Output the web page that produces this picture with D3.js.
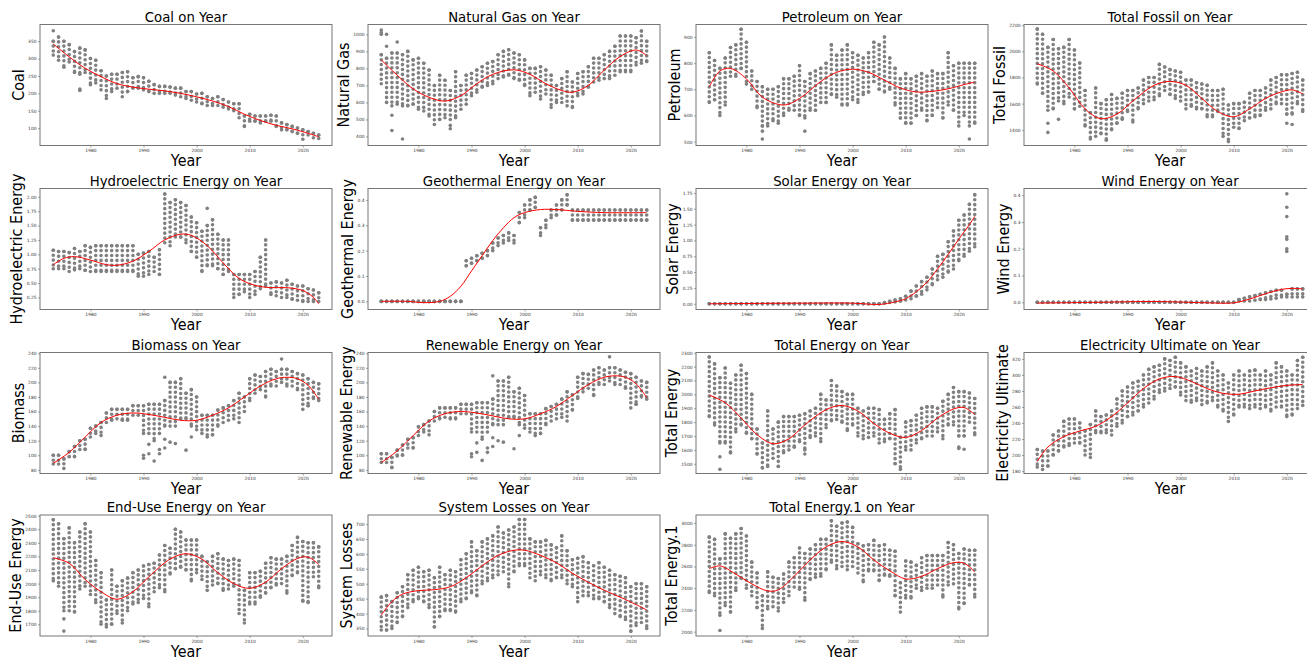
<!DOCTYPE html>
<html>
<head>
<meta charset="utf-8">
<script src="https://cdn.jsdelivr.net/npm/d3@7"></script>
<style>
  body { margin: 0; background: #fff; overflow: hidden; }
  text { font-family: "DejaVu Sans", sans-serif; }
</style>
</head>
<body>
<svg id="chart" width="1307" height="659"></svg>
<script>
const years = d3.range(1973, 2024);
const xTicks = [1980, 1990, 2000, 2010, 2020];

const coalLo = [310,295,275,290,260,255,260,225,230,210, 185,205,215,190,205,215,215,210,205,200, 200,200,200,195,190,185,180,175,170,165, 165,165,160,155,150,130,105,120,120,115, 120,120,105,95,95,90,85,68,80,72, 70];
const coalHi = [350,362,350,340,320,330,325,300,295,265, 250,255,255,260,262,245,248,245,235,225, 220,220,218,215,215,205,205,198,200,190, 185,190,182,175,170,170,135,140,135,135, 135,137,135,115,110,105,100,95,90,85, 80];
const coalExtra = [[1973,380],[1978,208],[1978,212]];
const coalTrend = [[1973,342],[1976,305],[1979,272],[1982,248],[1985,228],[1988,218],[1991,212],[1994,207],[1997,200],[2000,190],[2003,178],[2006,162],[2009,140],[2012,122],[2015,108],[2018,98],[2021,85],[2023,75]];
const coalTicks = [100,150,200,250,300,350];

const gasLo = [710,600,580,590,580,580,590,560,550,520, 470,500,510,500,510,560,590,640,660,690, 700,710,740,750,760,740,730,700,640,660, 620,650,570,600,600,580,570,640,650,690, 720,730,740,740,760,780,780,780,820,830, 840];
const gasHi = [880,860,890,890,880,900,850,860,830,790, 700,760,730,670,780,700,760,770,790,810, 830,840,880,900,910,890,880,850,800,800, 810,790,760,700,740,780,720,770,780,810, 860,860,880,900,930,990,990,990,980,1020, 960];
const gasExtra = [[1973,1000],[1973,1010],[1973,1025],[1974,930],[1974,1000],[1975,435],[1975,525],[1976,955],[1977,385],[1986,445],[1986,465]];
const gasTrend = [[1973,850],[1976,760],[1979,680],[1982,630],[1985,608],[1988,640],[1991,710],[1994,765],[1998,792],[2001,765],[2004,710],[2007,670],[2009,660],[2012,700],[2015,790],[2018,870],[2021,908],[2023,875]];
const gasTicks = [400,500,600,700,800,900,1000];

const petroLo = [650,660,600,640,750,750,780,720,700,630, 560,560,580,570,600,620,620,600,590,620, 620,650,650,680,670,640,640,660,650,680, 690,730,700,690,700,640,590,570,570,600, 620,580,600,630,590,640,620,560,600,560, 570];
const petroHi = [840,810,780,820,860,870,930,880,770,730, 710,700,700,710,740,740,750,790,730,760, 770,780,800,870,830,850,870,840,830,820, 840,880,870,900,820,780,740,760,740,750, 760,750,770,760,760,840,790,800,800,800, 800];
const petroExtra = [[1983,510],[1983,540],[1991,540],[2022,510]];
const petroTrend = [[1973,710],[1975,770],[1977,780],[1980,740],[1983,670],[1987,640],[1990,665],[1994,730],[1997,765],[2000,777],[2003,765],[2006,735],[2009,705],[2012,690],[2015,692],[2018,702],[2021,718],[2023,728]];
const petroTicks = [500,600,700,800,900];

const fossilLo = [1750,1680,1550,1560,1620,1600,1650,1560,1580,1430, 1330,1350,1370,1320,1400,1450,1480,1540,1460,1560, 1600,1620,1630,1660,1700,1670,1640,1620,1560,1580, 1560,1560,1500,1500,1540,1350,1310,1420,1410,1470, 1490,1500,1510,1550,1560,1600,1600,1520,1520,1600, 1540];
const fossilHi = [2170,2130,2030,2090,2020,2030,2090,2010,1910,1700, 1530,1720,1600,1630,1670,1640,1680,1700,1700,1720, 1780,1800,1800,1900,1880,1860,1850,1840,1780,1780, 1760,1750,1740,1700,1700,1710,1590,1600,1600,1610, 1680,1700,1700,1720,1780,1800,1820,1820,1830,1840, 1780];
const fossilExtra = [[1975,1380],[1975,1450],[1977,1480],[2020,1450],[2021,1440]];
const fossilTrend = [[1973,1905],[1976,1850],[1979,1720],[1982,1560],[1985,1485],[1988,1520],[1991,1620],[1995,1740],[1998,1770],[2001,1740],[2004,1640],[2007,1540],[2010,1500],[2013,1560],[2016,1640],[2019,1690],[2021,1705],[2023,1675]];
const fossilTicks = [1400,1600,1800,2000,2200];

const hydroLo = [0.75,0.75,0.75,0.70,0.73,0.75,0.72,0.70,0.70,0.70, 0.70,0.70,0.70,0.70,0.70,0.70,0.62,0.62,0.65,0.70, 0.65,1.20,1.15,1.30,1.30,1.20,1.05,0.95,0.70,0.80, 0.80,0.75,0.65,0.70,0.25,0.30,0.35,0.25,0.30,0.40, 0.45,0.30,0.28,0.25,0.25,0.22,0.20,0.18,0.18,0.18, 0.18];
const hydroHi = [1.07,1.05,1.05,1.03,1.10,1.05,1.15,1.12,1.15,1.15, 1.15,1.15,1.15,1.15,1.15,1.15,1.00,1.02,1.05,0.95, 1.08,2.05,1.90,1.95,1.90,1.85,1.65,1.55,1.40,1.50, 1.60,1.35,1.25,1.25,0.65,0.65,0.65,0.65,0.70,0.95, 1.25,0.50,0.52,0.50,0.55,0.48,0.45,0.45,0.40,0.38, 0.33];
const hydroExtra = [[2002,1.80]];
const hydroTrend = [[1973,0.82],[1975,0.93],[1977,0.96],[1980,0.90],[1983,0.82],[1985,0.81],[1988,0.88],[1991,1.05],[1994,1.25],[1997,1.35],[1999,1.33],[2002,1.15],[2005,0.85],[2008,0.58],[2011,0.46],[2014,0.42],[2017,0.42],[2020,0.37],[2022,0.25],[2023,0.14]];
const hydroTicks = [0.25,0.50,0.75,1.00,1.25,1.50,1.75,2.00];

const geoLo = [0,0,0,0,0,0,0,0,0,0, 0,0,0,0,0,0,0.14,0.15,0.16,0.17, 0.18,0.20,0.22,0.23,0.24,0.23,0.31,0.33,0.36,0.37, 0.26,0.29,0.33,0.34,0.36,0.38,0.32,0.32,0.32,0.32, 0.32,0.32,0.32,0.32,0.32,0.32,0.32,0.32,0.32,0.32, 0.32];
const geoHi = [0,0,0,0,0,0,0,0,0,0, 0,0,0,0,0,0,0.16,0.17,0.18,0.19, 0.20,0.23,0.25,0.26,0.27,0.26,0.35,0.38,0.40,0.41, 0.29,0.32,0.36,0.38,0.40,0.42,0.36,0.36,0.36,0.36, 0.36,0.36,0.36,0.36,0.36,0.36,0.36,0.36,0.36,0.36, 0.36];
const geoExtra = [];
const geoTrend = [[1973,0.0],[1978,0.0],[1981,-0.005],[1984,0.0],[1986,0.02],[1988,0.06],[1990,0.12],[1992,0.18],[1994,0.24],[1996,0.29],[1998,0.33],[2000,0.35],[2003,0.362],[2006,0.362],[2010,0.355],[2015,0.35],[2023,0.35]];
const geoTicks = [0.0,0.1,0.2,0.3,0.4];

const solarLo = [0,0,0,0,0,0,0,0,0,0, 0,0,0,0,0,0,0,0,0,0, 0,0,0,0,0,0,0,0,0,0, 0,0,0,0.01,0.02,0.03,0.04,0.06,0.08,0.12, 0.15,0.22,0.30,0.38,0.42,0.50,0.55,0.68,0.75,0.83, 0.90];
const solarHi = [0,0,0,0,0,0,0,0,0,0, 0,0,0,0,0,0,0,0,0,0, 0,0,0,0,0,0,0,0,0,0, 0,0,0,0.02,0.04,0.06,0.08,0.12,0.20,0.28, 0.35,0.42,0.55,0.75,0.78,0.98,1.15,1.32,1.40,1.57, 1.72];
const solarExtra = [];
const solarTrend = [[1973,0.0],[1990,0.01],[2000,0.01],[2005,-0.01],[2008,0.03],[2010,0.08],[2012,0.19],[2014,0.34],[2016,0.55],[2018,0.78],[2020,1.02],[2022,1.25],[2023,1.38]];
const solarTicks = [0.00,0.25,0.50,0.75,1.00,1.25,1.50,1.75];

const windLo = [0,0,0,0,0,0,0,0,0,0, 0,0,0,0,0,0,0,0,0,0, 0,0,0,0,0,0,0,0,0,0, 0,0,0,0,0,0,0,0,0.005,0.005, 0.005,0.008,0.01,0.01,0.012,0.015,0.02,0.02,0.02,0.02, 0.02];
const windHi = [0,0,0,0,0,0,0,0,0,0, 0,0,0,0,0,0,0,0,0,0, 0,0,0,0,0,0,0,0,0,0, 0,0,0,0,0,0,0,0,0.01,0.015, 0.02,0.025,0.03,0.035,0.04,0.045,0.045,0.03,0.05,0.05, 0.05];
const windExtra = [[2020,0.19],[2020,0.20],[2020,0.235],[2020,0.245],[2020,0.32],[2020,0.355],[2020,0.405]];
const windTrend = [[1973,-0.003],[1985,0.0],[1995,0.003],[2005,-0.002],[2010,-0.002],[2013,0.012],[2016,0.032],[2019,0.048],[2021,0.052],[2023,0.05]];
const windTicks = [0.0,0.1,0.2,0.3,0.4];

const bioLo = [88,88,82,98,98,108,108,125,130,127, 145,148,150,148,148,155,155,130,130,120, 130,140,140,140,150,150,140,135,130,125, 128,140,145,148,150,145,160,175,185,190, 180,195,195,200,195,195,190,170,168,178, 175];
const bioHi = [100,100,95,105,112,120,122,137,140,145, 158,163,163,163,163,168,168,168,170,170, 170,175,200,200,205,185,190,180,155,155, 155,162,165,168,175,185,180,205,210,208, 215,218,215,218,218,215,212,210,205,200, 198];
const bioExtra = [[1990,96],[1990,100],[1991,102],[1991,115],[1992,92],[1993,102],[1993,108],[1994,207],[1994,110],[1994,122],[1995,118],[1996,116],[1998,107],[1999,125],[2016,232],[2020,163],[2021,168]];
const bioTrend = [[1973,89],[1976,104],[1979,125],[1982,145],[1985,155],[1988,158],[1991,156],[1994,152],[1997,148],[2000,148],[2003,155],[2006,165],[2009,180],[2012,195],[2015,205],[2017,207],[2019,205],[2021,196],[2023,177]];
const bioTicks = [80,100,120,140,160,180,200,220,240];

const renewLo = [90,90,83,99,100,110,110,127,132,128, 147,150,152,150,150,157,157,132,132,122, 132,142,142,142,152,152,142,137,132,127, 130,142,147,150,152,147,162,178,187,192, 182,197,197,202,197,197,192,172,170,180, 177];
const renewHi = [102,102,97,107,114,122,124,139,142,147, 160,165,165,165,165,170,170,170,172,172, 172,177,202,202,207,187,192,182,157,157, 157,164,167,170,177,187,183,207,212,211, 217,220,217,220,220,217,214,212,207,202, 200];
const renewExtra = [[1990,98],[1990,102],[1991,104],[1991,117],[1992,93],[1993,104],[1993,110],[1994,209],[1994,112],[1994,124],[1995,120],[1996,118],[1998,109],[1999,127],[2016,235],[2020,165],[2021,170]];
const renewTrend = [[1973,90],[1976,106],[1979,127],[1982,147],[1985,157],[1988,160],[1991,158],[1994,154],[1997,150],[2000,150],[2003,157],[2006,167],[2009,182],[2012,197],[2015,207],[2017,209],[2019,207],[2021,198],[2023,179]];
const renewTicks = [80,100,120,140,160,180,200,220,240];

const totalLo = [1840,1780,1650,1650,1580,1730,1780,1720,1680,1570, 1470,1480,1540,1480,1580,1600,1620,1660,1600,1690, 1700,1660,1760,1810,1820,1800,1740,1780,1700,1680, 1690,1700,1650,1660,1680,1500,1460,1600,1600,1650, 1680,1700,1700,1730,1680,1780,1780,1700,1700,1800, 1710];
const totalHi = [2270,2220,2120,2190,2080,2140,2210,2150,2000,1750, 1650,1880,1750,1800,1840,1840,1840,1850,1860,1880, 1900,2000,1960,2100,2060,2020,2000,2000,1900,1880, 1900,1900,1890,1820,1860,1890,1690,1800,1810,1850, 1900,1910,1910,1900,1950,2000,2050,2020,2020,2010, 1970];
const totalExtra = [[1975,1460],[1975,1550],[1977,1580],[1991,1570],[2020,1610],[2020,1620],[2021,1605]];
const totalTrend = [[1973,1995],[1976,1940],[1979,1830],[1982,1710],[1985,1645],[1988,1680],[1991,1780],[1995,1890],[1998,1920],[2001,1880],[2004,1790],[2007,1720],[2010,1690],[2013,1740],[2016,1830],[2019,1895],[2021,1905],[2023,1855]];
const totalTicks = [1500,1600,1700,1800,1900,2000,2100,2200,2300];

const elecLo = [185,182,186,200,205,210,212,215,215,200, 197,228,228,228,225,236,240,248,250,255, 260,265,270,278,280,283,285,275,268,266, 268,263,265,268,260,255,242,250,260,260, 258,260,258,260,255,260,260,248,250,258, 262];
const elecHi = [207,205,205,225,230,242,245,245,240,230, 238,255,248,250,255,270,280,285,290,292, 300,307,310,312,320,318,322,315,310,305, 308,305,310,315,305,300,290,300,305,300, 305,306,300,305,300,315,310,305,300,318, 322];
const elecExtra = [];
const elecTrend = [[1973,192],[1975,210],[1978,223],[1981,230],[1984,236],[1987,248],[1990,265],[1993,283],[1996,295],[1999,298],[2002,292],[2005,283],[2008,277],[2011,276],[2014,280],[2017,284],[2020,287],[2023,288]];
const elecTicks = [180,200,220,240,260,280,300,320];

const endLo = [2020,1980,1800,1800,1790,1960,1980,1920,1860,1700, 1680,1700,1780,1710,1800,1850,1860,1890,1830,1940, 1970,1940,2070,2110,2120,2100,2020,2080,2030,1950, 1990,2000,1950,1960,1980,1780,1710,1850,1850,1900, 1930,1970,1990,2000,1930,2060,2080,1870,1860,2050, 1970];
const endHi = [2470,2440,2330,2410,2300,2380,2440,2380,2170,2080, 1880,2100,1980,2020,2040,2080,2100,2130,2140,2150, 2210,2280,2260,2400,2380,2320,2320,2320,2200,2160, 2200,2220,2180,2170,2180,2170,1950,2080,2080,2090, 2150,2190,2180,2180,2200,2280,2340,2310,2300,2300, 2270];
const endExtra = [[1975,1650],[1975,1740]];
const endTrend = [[1973,2190],[1976,2150],[1979,2030],[1982,1940],[1985,1885],[1988,1940],[1991,2050],[1995,2180],[1998,2220],[2001,2180],[2004,2080],[2007,2000],[2010,1965],[2013,2010],[2016,2110],[2019,2185],[2021,2195],[2023,2140]];
const endTicks = [1700,1800,1900,2000,2100,2200,2300,2400,2500];

const lossLo = [345,345,350,370,390,420,440,450,440,420, 355,390,410,410,405,440,450,470,460,500, 510,520,530,540,490,540,560,560,520,510, 530,520,510,520,520,500,490,440,460,460, 450,450,440,420,400,390,380,340,360,370, 350];
const lossHi = [455,460,440,470,490,530,545,555,540,545, 520,555,530,545,540,580,600,640,610,640, 650,660,690,670,680,690,715,715,650,640, 640,645,630,620,660,610,580,585,590,570, 560,570,555,545,530,525,520,490,500,500, 490];
const lossExtra = [];
const lossTrend = [[1973,395],[1975,440],[1977,465],[1980,477],[1983,480],[1986,490],[1989,520],[1992,560],[1995,595],[1998,612],[2000,612],[2003,595],[2006,570],[2009,535],[2012,505],[2015,478],[2018,455],[2021,430],[2023,412]];
const lossTicks = [350,400,450,500,550,600,650,700];

const total1Lo = [2360,2330,2150,2240,2180,2380,2490,2400,2330,2220, 2030,2210,2230,2190,2270,2330,2410,2390,2290,2480, 2500,2510,2570,2640,2580,2600,2570,2600,2540,2460, 2560,2560,2470,2520,2510,2330,2180,2310,2310,2400, 2380,2400,2400,2430,2320,2430,2440,2210,2260,2430, 2320];
const total1Hi = [2870,2850,2670,2900,2860,2900,2950,2880,2640,2540, 2330,2550,2500,2490,2530,2640,2680,2770,2720,2760, 2800,2850,2850,3020,2970,3000,3010,2960,2810,2790, 2800,2840,2790,2800,2750,2740,2450,2650,2640,2610, 2680,2700,2700,2700,2700,2820,2800,2720,2760,2750, 2750];
const total1Extra = [[1975,2010]];
const total1Trend = [[1973,2580],[1975,2605],[1978,2530],[1981,2440],[1984,2375],[1986,2385],[1989,2510],[1992,2660],[1995,2780],[1998,2830],[2001,2780],[2004,2660],[2007,2560],[2010,2485],[2013,2510],[2016,2580],[2019,2635],[2021,2630],[2023,2550]];
const total1Ticks = [2000,2200,2400,2600,2800,3000];

const panels = [
  {name: "Coal", lo: coalLo, hi: coalHi, extra: coalExtra, trend: coalTrend, ticks: coalTicks, dom: [50, 398], fmt: "d"},
  {name: "Natural Gas", lo: gasLo, hi: gasHi, extra: gasExtra, trend: gasTrend, ticks: gasTicks, dom: [347, 1058], fmt: "d"},
  {name: "Petroleum", lo: petroLo, hi: petroHi, extra: petroExtra, trend: petroTrend, ticks: petroTicks, dom: [485, 948], fmt: "d"},
  {name: "Total Fossil", lo: fossilLo, hi: fossilHi, extra: fossilExtra, trend: fossilTrend, ticks: fossilTicks, dom: [1280, 2205], fmt: "d"},
  {name: "Hydroelectric Energy", lo: hydroLo, hi: hydroHi, extra: hydroExtra, trend: hydroTrend, ticks: hydroTicks, dom: [0.04, 2.145], fmt: ".2f"},
  {name: "Geothermal Energy", lo: geoLo, hi: geoHi, extra: geoExtra, trend: geoTrend, ticks: geoTicks, dom: [-0.032, 0.445], fmt: ".1f"},
  {name: "Solar Energy", lo: solarLo, hi: solarHi, extra: solarExtra, trend: solarTrend, ticks: solarTicks, dom: [-0.09, 1.82], fmt: ".2f"},
  {name: "Wind Energy", lo: windLo, hi: windHi, extra: windExtra, trend: windTrend, ticks: windTicks, dom: [-0.027, 0.425], fmt: ".1f"},
  {name: "Biomass", lo: bioLo, hi: bioHi, extra: bioExtra, trend: bioTrend, ticks: bioTicks, dom: [75, 241], fmt: "d"},
  {name: "Renewable Energy", lo: renewLo, hi: renewHi, extra: renewExtra, trend: renewTrend, ticks: renewTicks, dom: [75, 241], fmt: "d"},
  {name: "Total Energy", lo: totalLo, hi: totalHi, extra: totalExtra, trend: totalTrend, ticks: totalTicks, dom: [1430, 2302], fmt: "d"},
  {name: "Electricity Ultimate", lo: elecLo, hi: elecHi, extra: elecExtra, trend: elecTrend, ticks: elecTicks, dom: [177, 328], fmt: "d"},
  {name: "End-Use Energy", lo: endLo, hi: endHi, extra: endExtra, trend: endTrend, ticks: endTicks, dom: [1614, 2505], fmt: "d"},
  {name: "System Losses", lo: lossLo, hi: lossHi, extra: lossExtra, trend: lossTrend, ticks: lossTicks, dom: [325, 730], fmt: "d"},
  {name: "Total Energy.1", lo: total1Lo, hi: total1Hi, extra: total1Extra, trend: total1Trend, ticks: total1Ticks, dom: [1960, 3074], fmt: "d"}
];

const colLeft = [40, 368, 696, 1024];
const rowTop = [24.5, 188.5, 352.5, 515];
const boxW = 292, boxH = 121;
const dotGray = "#808080";

const svg = d3.select("#chart");
svg.append("rect").attr("width", 1307).attr("height", 659).attr("fill", "#fff");

panels.forEach((p, i) => {
  const left = colLeft[i % 4], top = rowTop[Math.floor(i / 4)];
  const g = svg.append("g").attr("transform", `translate(${left},${top})`);

  const x = d3.scaleLinear().domain([1970.5, 2025.5]).range([0, boxW]);
  const y = d3.scaleLinear().domain(p.dom).range([boxH, 0]);

  // axes
  const xa = g.append("g").attr("transform", `translate(0,${boxH})`)
    .call(d3.axisBottom(x).tickValues(xTicks).tickFormat(d3.format("d")).tickSize(2).tickPadding(1.5));
  const ya = g.append("g")
    .call(d3.axisLeft(y).tickValues(p.ticks).tickFormat(d3.format(p.fmt)).tickSize(2).tickPadding(1.5));
  [xa, ya].forEach(a => {
    a.select(".domain").remove();
    a.selectAll("line").attr("stroke", "#444").attr("stroke-width", 0.5);
    a.selectAll("text").attr("font-size", 4.4).attr("fill", "#333").attr("font-family", "DejaVu Sans");
  });
  let tickW = 0;
  ya.selectAll("text").each(function () { tickW = Math.max(tickW, this.getComputedTextLength()); });

  // yearly columns of monthly points
  g.append("g").selectAll("line").data(years).join("line")
    .attr("x1", d => x(d)).attr("x2", d => x(d))
    .attr("y1", (d, k) => y(p.hi[k])).attr("y2", (d, k) => y(p.lo[k]))
    .attr("stroke", dotGray).attr("stroke-width", 3.6)
    .attr("stroke-linecap", "round").attr("stroke-dasharray", "0 4.9");
  g.append("g").selectAll("circle").data(years.flatMap((d, k) => [[d, p.lo[k]], [d, p.hi[k]]]).concat(p.extra)).join("circle")
    .attr("cx", d => x(d[0])).attr("cy", d => y(d[1])).attr("r", 1.8).attr("fill", dotGray);

  // fitted curve
  g.append("path").datum(p.trend)
    .attr("d", d3.line().x(d => x(d[0])).y(d => y(d[1])).curve(d3.curveCatmullRom.alpha(0.5)))
    .attr("fill", "none").attr("stroke", "red").attr("stroke-width", 1);

  // frame
  g.append("rect").attr("width", boxW).attr("height", boxH)
    .attr("fill", "none").attr("stroke", "#777").attr("stroke-width", 1);

  g.append("text").attr("transform", `translate(${boxW / 2},-3) scale(0.95,1)`).attr("text-anchor", "middle")
    .attr("font-size", 14).text(`${p.name} on Year`);
  g.append("text").attr("transform", `translate(${boxW / 2},${boxH + 20.5}) scale(0.87,1)`).attr("text-anchor", "middle")
    .attr("font-size", 16.5).text("Year");
  g.append("text").attr("transform", `translate(${-(tickW + 8)},${boxH / 2}) rotate(-90) scale(0.9,1)`).attr("text-anchor", "middle")
    .attr("font-size", 16).text(p.name);
});
</script>
</body>
</html>
